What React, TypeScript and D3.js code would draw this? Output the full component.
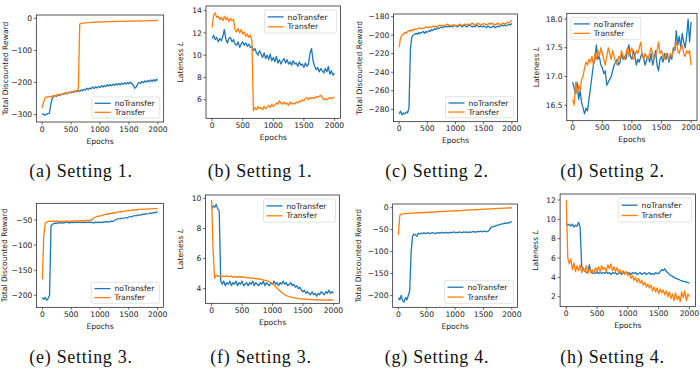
import React from 'react';
import * as d3 from 'd3';

// ---------- data (epochs sampled every 25) ----------
const EPOCHS = d3.range(0, 2001, 25);

const aNoTransfer = [
  -300, -298, -302, -299, -297, -296, -270, -248, -244, -241,
  -243, -237, -241, -238, -235, -237, -232, -236, -233, -230,
  -232, -228, -231, -226, -229, -225, -228, -223, -226, -221,
  -224, -218, -222, -217, -220, -214, -219, -213, -217, -212,
  -216, -210, -214, -209, -213, -207, -211, -206, -210, -205,
  -209, -204, -208, -203, -207, -202, -206, -201, -205, -200,
  -204, -199, -203, -208, -218, -214, -205, -200, -203, -197,
  -201, -195, -199, -194, -198, -192, -197, -191, -196, -190,
  -194,
];
const aTransfer = [
  -280, -262, -248, -245, -246, -243, -245, -242, -241, -243,
  -239, -240, -237, -238, -235, -236, -233, -234, -231, -232,
  -229, -230, -227, -228, -225, -224, -18, -16, -15, -15.5,
  -14.5, -14, -13.5, -13.8, -12.8, -13, -12.5, -12, -12.3, -11.8,
  -11.5, -11.7, -11.2, -11, -11.3, -10.8, -10.6, -10.9, -10.4, -10.2,
  -10.5, -10, -9.8, -10.1, -9.6, -9.5, -9.8, -9.3, -9.2, -9.5,
  -9, -8.9, -9.2, -8.8, -8.6, -8.9, -8.4, -8.3, -8.6, -8.1,
  -8, -8.3, -7.8, -7.7, -8, -7.5, -7.4, -7.7, -7.2, -7.1,
  -7,
];
const bNoTransfer = [
  11.5, 11.8, 11.4, 11.6, 11.2, 11.5, 11.3, 11.7, 12.3, 11.4,
  11.1, 11.5, 11.6, 11.2, 11.4, 11.0, 10.9, 11.2, 10.7, 11.0,
  11.2, 10.9, 11.1, 10.8, 11.0, 10.7, 10.8, 10.4, 10.6, 10.2,
  10.0, 10.4, 10.1, 9.8, 10.2, 9.7, 10.0, 9.6, 10.1, 9.5,
  9.8, 9.4, 9.9, 9.3, 9.6, 9.2, 9.5, 9.7, 9.3, 9.6,
  9.2, 9.4, 9.1, 9.5, 9.2, 9.3, 9.0, 9.4, 9.1, 9.2,
  8.9, 9.3, 9.0, 9.2, 10.2, 10.6, 9.5, 9.0, 8.7, 8.9,
  8.5, 8.8, 8.6, 8.4, 8.8, 8.5, 9.0, 8.3, 8.6, 8.2,
  8.4,
];
const bTransfer = [
  12.5, 13.6, 13.8, 13.4, 13.5, 13.2, 13.4, 13.1, 13.5, 13.2,
  13.4, 13.0, 13.3, 13.1, 13.2, 12.3, 12.1, 12.4, 12.0, 12.3,
  11.9, 12.1, 11.7, 11.9, 11.6, 11.8, 11.3, 5.0, 5.3, 5.1,
  5.4, 5.2, 5.3, 5.1, 5.4, 5.2, 5.3, 5.5, 5.3, 5.6,
  5.4, 5.5, 5.7, 5.6, 5.9, 5.7, 5.6, 5.8, 5.6, 5.7,
  5.5, 5.8, 5.6, 5.7, 5.6, 5.8, 5.7, 5.9, 5.8, 6.0,
  5.9, 6.1, 6.2, 6.0, 6.2, 6.1, 6.2, 6.1, 6.3, 6.2,
  6.3, 6.4, 6.2, 6.0, 6.1, 6.0, 6.1, 6.2, 6.1, 6.2,
  6.2,
];
const cNoTransfer = [
  -285, -282, -286, -284, -285, -283, -284, -278, -215, -202,
  -200, -199, -198, -199, -197, -198, -197, -196, -198, -196,
  -197, -195, -196, -194, -195, -193, -194, -192, -193, -192,
  -191, -192, -191, -190, -191, -190, -191, -190, -191, -189,
  -190, -191, -190, -189, -190, -191, -189, -190, -191, -190,
  -189, -190, -191, -190, -191, -189, -190, -191, -190, -191,
  -190, -191, -192, -190, -191, -192, -191, -190, -192, -191,
  -190, -191, -190, -189, -190, -189, -190, -189, -188, -189,
  -187,
];
const cTransfer = [
  -213, -203, -200, -199, -197, -198, -196, -195, -196, -194,
  -195, -193, -194, -193, -192, -193, -192, -193, -192, -191,
  -192, -191, -192, -191, -190, -191, -190, -191, -190, -189,
  -190, -189, -190, -189, -188, -189, -189, -190, -189, -189,
  -189.5, -190, -189, -188, -189, -189.5, -188.5, -188, -189, -188,
  -188.5, -188, -187, -188, -189, -188, -187, -188, -189, -188,
  -187.5, -188, -189, -188, -187, -188, -187, -188, -189, -188,
  -187, -188, -189, -187.5, -187, -188, -187, -186.5, -186, -185.5,
  -184,
];
const dNoTransfer = [
  16.9, 16.8, 16.7, 16.9, 16.6, 16.75, 16.55, 16.45, 16.35, 16.45,
  16.4, 16.6, 16.8, 17.0, 17.2, 17.3, 17.55, 17.3, 17.35, 17.2,
  17.15, 17.05, 17.1, 16.85, 16.9, 16.95, 17.0, 17.1, 17.2, 17.25,
  17.3, 17.2, 17.25, 17.4, 17.3, 17.35, 17.3, 17.45, 17.55, 17.35,
  17.3, 17.45, 17.35, 17.2, 17.3, 17.25, 17.35, 17.4, 17.3, 17.2,
  17.3, 17.35, 17.25, 17.4, 17.2, 17.3, 17.45, 17.2, 17.1, 17.3,
  17.35, 17.25, 17.4, 17.3, 17.4, 17.25, 17.35, 17.3, 17.5, 17.45,
  17.8, 17.55, 17.7, 17.5, 17.75, 17.6, 17.5, 17.7, 18.0, 17.6,
  17.95,
];
const dTransfer = [
  16.6, 16.5, 16.9, 16.7, 16.85, 16.75, 16.95, 17.0, 17.15, 17.25,
  17.2, 17.3, 17.25, 17.35, 17.2, 17.4, 17.3, 17.45, 17.35, 17.5,
  17.4, 17.3, 17.2, 17.35, 17.5, 17.4, 17.3, 17.45, 17.35, 17.25,
  17.2, 17.35, 17.3, 17.45, 17.35, 17.3, 17.4, 17.5, 17.35, 17.45,
  17.5, 17.3, 17.35, 17.45, 17.4, 17.5, 17.6, 17.35, 17.3, 17.4,
  17.35, 17.3, 17.4, 17.5, 17.4, 17.3, 17.35, 17.45, 17.6, 17.4,
  17.45, 17.35, 17.3, 17.4, 17.35, 17.3, 17.4, 17.35, 17.45, 17.5,
  17.6, 17.45, 17.4, 17.5, 17.55, 17.4, 17.35, 17.45, 17.4, 17.45,
  17.2,
];
const eNoTransfer = [
  -205, -208, -204, -210, -206, -200, -62, -58, -57, -56,
  -57, -55, -56, -55, -56, -55, -55, -54, -55, -56,
  -54, -55, -54, -55, -54, -55, -54, -55, -54, -55,
  -54, -55, -54, -55, -54, -55, -56, -54, -55, -54,
  -55, -54, -55, -53, -54, -53, -54, -53, -52, -53,
  -51, -49, -48, -47, -48, -46, -47, -46, -45, -46,
  -44, -43, -44, -42, -41, -42, -40, -41, -39, -40,
  -38, -39, -37, -38, -37, -36, -37, -35, -36, -34,
  -35,
];
const eTransfer = [
  -168, -80, -57, -54, -53, -52, -53, -52, -52, -53,
  -52, -52.5, -52, -53, -52, -52.5, -52, -51.5, -52, -52.5,
  -52, -51.5, -52, -51, -51.5, -52, -51, -51.5, -51, -51.5,
  -51, -50.5, -51, -50.5, -50, -47, -45, -44, -43, -42.5,
  -42, -41, -40, -39.5, -38.5, -38, -37.5, -37, -36.5, -36,
  -35.5, -35, -34.5, -34, -33.5, -33.5, -33, -32.5, -32, -31.5,
  -31, -31, -30.5, -30, -30, -29.5, -29.5, -29, -29, -29,
  -28.5, -28.5, -28.5, -28, -28, -28, -28, -27.5, -27.5, -27.5,
  -27.5,
];
const fNoTransfer = [
  9.3, 9.5, 9.4, 9.6, 9.3, 9.2, 4.5, 4.3, 4.5, 4.2,
  4.4, 4.3, 4.5, 4.2, 4.4, 4.3, 4.5, 4.2, 4.4, 4.3,
  4.5, 4.2, 4.3, 4.4, 4.2, 4.4, 4.3, 4.5, 4.2, 4.4,
  4.3, 4.2, 4.4, 4.3, 4.5, 4.2, 4.4, 4.3, 4.2, 4.4,
  4.3, 4.5, 4.3, 4.4, 4.2, 4.4, 4.3, 4.5, 4.3, 4.4,
  4.2, 4.3, 4.4, 4.2, 4.3, 4.1, 4.2, 4.0, 4.1, 3.9,
  3.8, 3.9, 3.7, 3.8, 3.7, 3.6, 3.8, 3.6, 3.7, 3.5,
  3.7, 3.6, 3.8, 3.7, 3.6, 3.8, 3.7, 3.9, 3.7, 3.8,
  3.7,
];
const fTransfer = [
  9.9, 6.5, 4.7, 4.9, 4.85, 4.8, 4.85, 4.8, 4.85, 4.8,
  4.85, 4.8, 4.8, 4.85, 4.75, 4.8, 4.8, 4.75, 4.8, 4.75,
  4.8, 4.75, 4.78, 4.72, 4.75, 4.7, 4.72, 4.68, 4.7, 4.65,
  4.68, 4.62, 4.65, 4.6, 4.58, 4.55, 4.55, 4.5, 4.45, 4.4,
  4.35, 4.25, 4.15, 4.05, 3.95, 3.85, 3.75, 3.68, 3.6, 3.55,
  3.5, 3.47, 3.45, 3.42, 3.4, 3.38, 3.36, 3.35, 3.33, 3.32,
  3.3, 3.32, 3.3, 3.28, 3.3, 3.27, 3.28, 3.26, 3.28, 3.25,
  3.27, 3.25, 3.26, 3.24, 3.26, 3.25, 3.24, 3.26, 3.25, 3.24,
  3.25,
];
const gNoTransfer = [
  -205, -210, -200, -212, -215, -205, -210, -200, -190, -100,
  -65, -60, -62, -65, -58, -60, -58, -59, -57, -59,
  -58, -57, -59, -58, -57, -58, -59, -57, -58, -57,
  -58, -56, -58, -57, -56, -58, -57, -56, -57, -55,
  -57, -56, -57, -55, -56, -57, -55, -56, -55, -57,
  -55, -56, -55, -54, -56, -55, -54, -55, -53, -55,
  -54, -53, -55, -54, -52, -46, -44, -43, -42, -41,
  -40, -39, -38, -37, -37, -35, -36, -34, -35, -33,
  -32,
];
const gTransfer = [
  -62, -18, -15, -14, -14, -13, -13.5, -13, -12.5, -13,
  -12, -12.5, -12, -11.5, -12, -11, -11.5, -11, -10.5, -11,
  -10.5, -10, -10.5, -9.8, -10, -9.5, -9.8, -9, -9.3, -8.8,
  -9, -8.5, -8.7, -8.2, -8.5, -8, -7.8, -7.5, -7.8, -7.2,
  -7, -6.8, -7, -6.5, -6.3, -6, -6.2, -5.8, -5.5, -5.3,
  -5.5, -5, -4.8, -4.5, -4.7, -4.3, -4, -4.2, -3.8, -3.5,
  -3.7, -3.2, -3, -3.3, -2.8, -2.5, -2.7, -2.2, -2, -2.2,
  -1.8, -1.5, -1.7, -1.3, -1, -1.2, -0.8, -0.5, -0.7, -0.3,
  -0.2,
];
const hNoTransfer = [
  9.6, 9.4, 9.5, 9.3, 9.5, 9.2, 9.4, 9.3, 9.7, 9.2,
  5.2, 4.8, 4.7, 4.5, 4.6, 5.3, 4.6, 4.4, 4.5, 4.4,
  4.6, 4.4, 4.5, 4.4, 4.5, 4.4, 4.6, 4.4, 4.5, 4.3,
  4.5, 4.4, 4.5, 4.3, 4.4, 4.5, 4.3, 4.5, 4.4, 4.6,
  4.4, 4.5, 4.3, 4.5, 4.4, 4.5, 4.3, 4.4, 4.5, 4.3,
  4.4, 4.5, 4.3, 4.4, 4.5, 4.3, 4.4, 4.3, 4.5, 4.4,
  4.4, 4.6, 4.8, 4.7, 4.9, 4.6, 4.5, 4.3, 4.2, 4.1,
  4.0, 3.9, 3.85, 3.8, 3.7, 3.65, 3.6, 3.55, 3.5, 3.45,
  3.4,
];
const hTransfer = [
  12.0, 6.0, 5.4, 5.9, 4.8, 5.5, 4.6, 5.2, 4.7, 5.3,
  4.5, 5.0, 4.6, 5.2, 4.4, 4.9, 4.5, 4.8, 4.4, 5.0,
  4.7, 5.1, 4.6, 5.2, 4.8, 5.0, 4.6, 5.3, 4.9, 5.4,
  4.7, 5.1, 4.6, 5.0, 4.5, 4.8, 4.4, 4.7, 4.3, 4.6,
  4.2, 4.4, 3.9, 4.2, 3.7, 4.0, 3.5, 3.9, 3.4, 3.7,
  3.2, 3.5, 3.0, 3.3, 2.9, 3.2, 2.6, 3.0, 2.5, 2.9,
  2.3, 2.8, 2.4, 2.7, 2.2, 2.6, 2.0, 2.5, 1.8, 2.3,
  1.6, 2.4, 1.7, 2.1, 1.5, 2.5, 1.9, 2.6, 1.6, 2.3,
  2.0,
];

const X_TICKS = [0, 500, 1000, 1500, 2000];
const SERIES_NAMES = ['noTransfer', 'Transfer'];
const CAPTIONS = [
  '(a) Setting 1.', '(b) Setting 1.', '(c) Setting 2.', '(d) Setting 2.',
  '(e) Setting 3.', '(f) Setting 3.', '(g) Setting 4.', '(h) Setting 4.',
];
const Y_TICKS = [
  [0, -100, -200, -300],
  [6, 8, 10, 12, 14],
  [-280, -260, -240, -220, -200, -180],
  [16.5, 17.0, 17.5, 18.0],
  [-200, -150, -100, -50],
  [4, 6, 8, 10],
  [-200, -150, -100, -50, 0],
  [2, 4, 6, 8, 10, 12],
];

// ---------- layout ----------
const BLUE = '#1f77b4';
const ORANGE = '#ff7f0e';
const SANS = '"DejaVu Sans", sans-serif';
const SERIF = '"Liberation Serif", "Times New Roman", serif';

type Cfg = {
  no: number[]; tr: number[]; caption: string; ticks: number[];
  box: [number, number, number, number]; yDom: [number, number];
  reward: boolean; dec: number; legend: 'lr' | 'ur' | 'ul';
  lw: number; lh: number; ylOff: number; capX: number; capY: number;
};

const PANELS: Cfg[] = [
  { no: aNoTransfer, tr: aTransfer, caption: CAPTIONS[0], ticks: Y_TICKS[0], box: [36.3, 15, 163.7, 122], yDom: [-323, 10], reward: true, dec: 0, legend: 'lr', lw: 68, lh: 21, ylOff: 31, capX: 81, capY: 177 },
  { no: bNoTransfer, tr: bTransfer, caption: CAPTIONS[1], ticks: Y_TICKS[1], box: [206, 6, 340.6, 118.3], yDom: [4.33, 14.42], reward: false, dec: 0, legend: 'ur', lw: 72, lh: 23, ylOff: 26, capX: 260, capY: 177 },
  { no: cNoTransfer, tr: cTransfer, caption: CAPTIONS[2], ticks: Y_TICKS[2], box: [393.5, 14, 517.5, 121.7], yDom: [-293.4, -177.1], reward: true, dec: 0, legend: 'lr', lw: 68, lh: 21, ylOff: 34, capX: 437, capY: 177 },
  { no: dNoTransfer, tr: dTransfer, caption: CAPTIONS[3], ticks: Y_TICKS[3], box: [566.8, 13.3, 697, 120.7], yDom: [16.23, 18.1], reward: false, dec: 1, legend: 'ul', lw: 70, lh: 22, ylOff: 30, capX: 612.5, capY: 177 },
  { no: eNoTransfer, tr: eTransfer, caption: CAPTIONS[4], ticks: Y_TICKS[4], box: [36.6, 203.3, 163.4, 307.3], yDom: [-223.9, -16.7], reward: true, dec: 0, legend: 'lr', lw: 68, lh: 21, ylOff: 32, capX: 81, capY: 363 },
  { no: fNoTransfer, tr: fTransfer, caption: CAPTIONS[5], ticks: Y_TICKS[5], box: [205.5, 195, 339.5, 303.3], yDom: [3.03, 10.22], reward: false, dec: 0, legend: 'ur', lw: 72, lh: 23, ylOff: 25.5, capX: 261, capY: 363 },
  { no: gNoTransfer, tr: gTransfer, caption: CAPTIONS[6], ticks: Y_TICKS[6], box: [392.7, 204, 517.5, 307.3], yDom: [-227, 8.4], reward: true, dec: 0, legend: 'lr', lw: 69, lh: 23, ylOff: 34, capX: 437, capY: 363 },
  { no: hNoTransfer, tr: hTransfer, caption: CAPTIONS[7], ticks: Y_TICKS[7], box: [560.1, 194, 695.6, 306.7], yDom: [0.97, 12.62], reward: false, dec: 0, legend: 'ur', lw: 73, lh: 24, ylOff: 25, capX: 612.5, capY: 363 },
];

const fmt = (v: number, dec: number) => {
  const s = Math.abs(v).toFixed(dec);
  return v < 0 ? '\u2212' + s : s;
};

function Panel({ p }: { p: Cfg }) {
  const [L, T, R, B] = p.box;
  const x = d3.scaleLinear().domain([-100, 2100]).range([L, R]);
  const y = d3.scaleLinear().domain(p.yDom).range([B, T]);
  const line = d3.line<number>().x((_, i) => x(EPOCHS[i])).y((d) => y(d));
  const fs = 7.6;
  const tickLen = 2.6;
  const sw = 1.3;

  let lx = 0, ly = 0;
  if (p.legend === 'lr') { lx = R - 4 - p.lw; ly = B - 4 - p.lh; }
  else if (p.legend === 'ur') { lx = R - 4 - p.lw; ly = T + 4; }
  else { lx = L + 4; ly = T + 4; }

  const cy = (T + B) / 2;
  return (
    <g>
      <path d={line(p.no) || ''} fill="none" stroke={BLUE} strokeWidth={sw} strokeLinejoin="round" />
      <path d={line(p.tr) || ''} fill="none" stroke={ORANGE} strokeWidth={sw} strokeLinejoin="round" />
      <rect x={L} y={T} width={R - L} height={B - T} fill="none" stroke="#111" strokeWidth={0.7} />
      {X_TICKS.map((t) => (
        <g key={'x' + t}>
          <line x1={x(t)} x2={x(t)} y1={B} y2={B + tickLen} stroke="#111" strokeWidth={0.6} />
          <text x={x(t)} y={B + 9.6} textAnchor="middle" fontSize={fs} fontFamily={SANS} fill="#222">{fmt(t, 0)}</text>
        </g>
      ))}
      {p.ticks.map((t) => (
        <g key={'y' + t}>
          <line x1={L - tickLen} x2={L} y1={y(t)} y2={y(t)} stroke="#111" strokeWidth={0.6} />
          <text x={L - tickLen - 1.6} y={y(t) + 2.7} textAnchor="end" fontSize={fs} fontFamily={SANS} fill="#222">{fmt(t, p.dec)}</text>
        </g>
      ))}
      <text x={(L + R) / 2} y={B + 21.5} textAnchor="middle" fontSize={fs} fontFamily={SANS} fill="#222">Epochs</text>
      <text transform={`translate(${L - p.ylOff},${cy}) rotate(-90)`} textAnchor="middle" dy="0.35em" fontSize={fs} fontFamily={SANS} fill="#222">
        {p.reward ? 'Total Discounted Reward' : (<>Lateness <tspan fontStyle="italic">L</tspan></>)}
      </text>
      <g transform={`translate(${lx},${ly})`}>
        <rect x={0} y={0} width={p.lw} height={p.lh} rx={1.5} fill="white" fillOpacity={0.8} stroke="#d0d0d0" strokeWidth={0.6} />
        {SERIES_NAMES.map((n, i) => {
          const ry = p.lh * (0.3 + 0.43 * i);
          return (
            <g key={n}>
              <line x1={3} x2={19} y1={ry} y2={ry} stroke={i === 0 ? BLUE : ORANGE} strokeWidth={sw} />
              <text x={23} y={ry + 2.7} fontSize={fs} fontFamily={SANS} fill="#222">{n}</text>
            </g>
          );
        })}
      </g>
      <text x={p.capX} y={p.capY} textAnchor="middle" fontSize={18} letterSpacing={0.7} fontFamily={SERIF} fill="#111">{p.caption}</text>
    </g>
  );
}

export default function App() {
  return (
    <svg width={700} height={381} style={{ position: 'absolute', left: 0, top: 0, background: 'white' }}>
      <rect x={0} y={0} width={700} height={381} fill="white" />
      {PANELS.map((p, i) => <Panel key={i} p={p} />)}
    </svg>
  );
}
